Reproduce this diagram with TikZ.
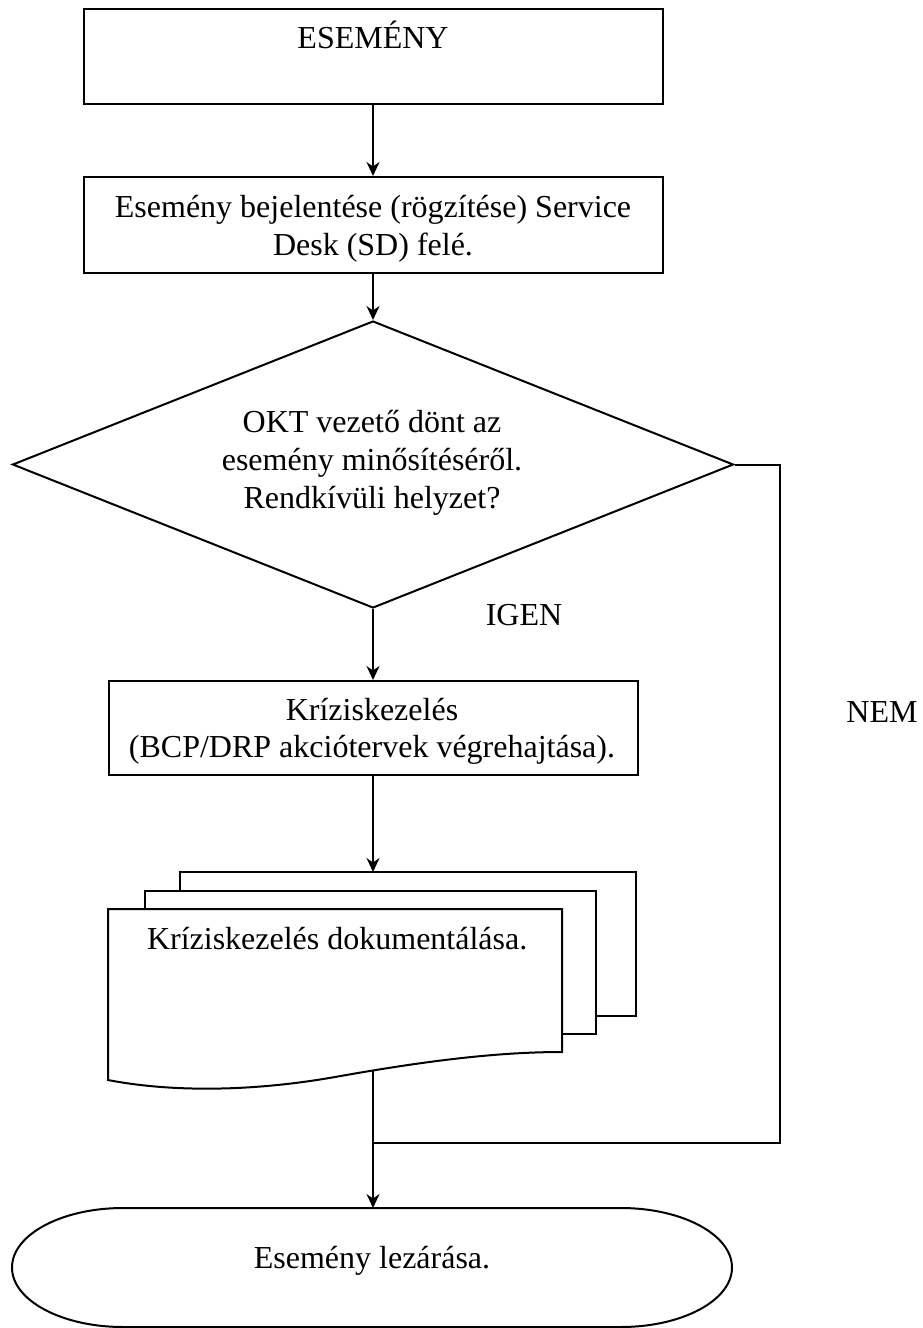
\documentclass[tikz,border=0pt]{standalone}
\usepackage{fontspec}
\setmainfont{Liberation Serif}
\usetikzlibrary{shapes.geometric,arrows.meta}
\begin{document}
\begin{tikzpicture}[x=1pt,y=-1pt,
  line width=2pt,
  txt/.style={font=\fontsize{32}{38}\selectfont, inner sep=0pt, anchor=base},
  boxnode/.style={draw, rectangle, inner sep=0pt},
  arr/.style={-{Stealth[length=14pt,width=13pt,inset=4.5pt]}},
  sheet/.style={draw, fill=white}
]
\useasboundingbox (0,0) rectangle (923,1328);

% boxes
\node[boxnode, minimum width=579pt, minimum height=95pt] (e1) at (373,56.5) {};
\node[boxnode, minimum width=579pt, minimum height=96pt] (b2) at (373,225) {};
\node[draw, diamond, aspect=2.512, minimum width=721pt, minimum height=287pt, inner sep=0pt] (d) at (373,464.5) {};
\node[boxnode, minimum width=529pt, minimum height=94pt] (b3) at (373,728) {};

% stacked documents
\draw[sheet] (180,1016) -- (180,872) -- (636,872) -- (636,1016) -- cycle;
\draw[sheet] (145,1034) -- (145,891) -- (596,891) -- (596,1034) -- cycle;
\draw[sheet] (562,1052) -- (562,909) -- (108,909) -- (108,1080)
  .. controls (170,1092) and (250,1092) .. (335,1077)
  .. controls (430,1060) and (500,1052) .. (562,1052) -- cycle;
\coordinate (docTop) at (373,872);
\coordinate (docBot) at (373,1071);

% terminator
\draw (123,1208) -- (621,1208)
  arc[start angle=90, end angle=-90, x radius=111pt, y radius=59.5pt]
  -- (123,1327)
  arc[start angle=270, end angle=90, x radius=111pt, y radius=59.5pt] -- cycle;
\coordinate (termTop) at (373,1208);

% texts
\node[txt] (t1) at (373,48) {ESEMÉNY};
\node[txt] (t2a) at (373,217) {Esemény bejelentése (rögzítése) Service};
\node[txt] (t2b) at (373,255) {Desk (SD) felé.};
\node[txt] (t3a) at (372,432) {OKT vezető dönt az};
\node[txt] (t3b) at (372,470) {esemény minősítéséről.};
\node[txt] (t3c) at (372,508) {Rendkívüli helyzet?};
\node[txt] (igen) at (524,625) {IGEN};
\node[txt] (nem) at (882,722) {NEM};
\node[txt] (t4a) at (372,720) {Kríziskezelés};
\node[txt] (t4b) at (372,757) {(BCP/DRP akciótervek végrehajtása).};
\node[txt, anchor=base west] (t5) at (146,949) {Kríziskezelés dokumentálása.};
\node[txt] (t6) at (372,1268) {Esemény lezárása.};

% connectors
\draw[arr] (e1.south) -- (b2.north);
\draw[arr] (b2.south) -- (d.north);
\draw[arr] (d.south) -- (b3.north);
\draw[arr] (b3.south) -- (docTop);
\draw[arr] (docBot) -- (termTop);
\coordinate (nc1) at (780,464.5);
\coordinate (nc2) at (780,1143);
\coordinate (nj) at (373,1143);
\draw (d.east) -- (nc1) -- (nc2) -- (nj);
\end{tikzpicture}
\end{document}
